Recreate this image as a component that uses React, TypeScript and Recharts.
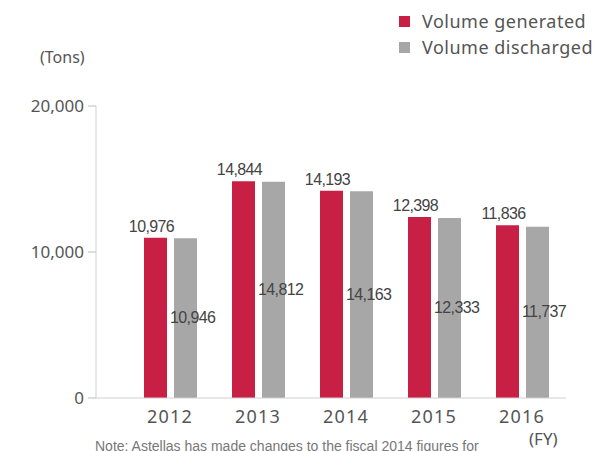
import { Bar, BarChart, XAxis, YAxis } from "recharts";

const years = ["2012", "2013", "2014", "2015", "2016"];
const generated = [10976, 14844, 14193, 12398, 11836];
const discharged = [10946, 14812, 14163, 12333, 11737];
const yTicks = [0, 10000, 20000];

const RED = "#c81f45";
const GRAY = "#a7a7a8";
const TEXT = "#555";

const data = years.map((y, i) => ({
  year: y,
  generated: generated[i],
  discharged: discharged[i],
}));

const fmt = (v: number) => v.toLocaleString("en-US");

const labelFont = {
  fontFamily: "'Liberation Sans', Arial, sans-serif",
  fontSize: 16,
  letterSpacing: -0.6,
  fill: "#444",
};

function TopLabel(props: any) {
  const { x, y, width, value } = props;
  return (
    <text x={x + width / 2 - 4} y={y - 6} textAnchor="middle" {...labelFont}>
      {fmt(value)}
    </text>
  );
}

function InsideLabel(props: any) {
  const { x, y, height, value } = props;
  return (
    <text x={x - 4} y={y + height / 2 + 5} textAnchor="start" {...labelFont}>
      {fmt(value)}
    </text>
  );
}

const legendItems = [
  { name: "Volume generated", color: RED },
  { name: "Volume discharged", color: GRAY },
];

export default function App() {
  const font = "'Noto Sans', sans-serif";
  return (
    <div style={{ position: "absolute", left: 0, top: 0, width: 606, height: 451, overflow: "hidden", background: "#fff" }}>
      <BarChart
        width={606}
        height={451}
        data={data}
        margin={{ top: 106, right: 40, bottom: 23, left: 0 }}
        barSize={23}
        barGap={7}
      >
        <XAxis
          dataKey="year"
          height={30}
          padding={{ left: 30, right: 0 }}
          axisLine={{ stroke: "#d0d0d0" }}
          tickLine={false}
          tickMargin={6}
          tick={{ fill: TEXT, fontSize: 18, fontFamily: font, letterSpacing: 1.2 }}
        />
        <YAxis
          width={96}
          domain={[0, 20000]}
          ticks={yTicks}
          tickFormatter={fmt}
          axisLine={{ stroke: "#d0d0d0" }}
          tickLine={{ stroke: "#bdbdbd" }}
          tickSize={8}
          tickMargin={4}
          tick={{ fill: TEXT, fontSize: 17, fontFamily: font }}
        />
        <Bar dataKey="generated" fill={RED} isAnimationActive={false} label={<TopLabel />} />
        <Bar dataKey="discharged" fill={GRAY} isAnimationActive={false} label={<InsideLabel />} />
      </BarChart>
      <div style={{ position: "absolute", left: 399, top: 8, fontFamily: font, fontSize: 18, letterSpacing: 0.5, color: TEXT }}>
        {legendItems.map((it) => (
          <div key={it.name} style={{ display: "flex", alignItems: "center", height: 26 }}>
            <span
              style={{
                width: 11,
                height: 11,
                background: it.color,
                display: "inline-block",
                marginRight: 12,
              }}
            />
            {it.name}
          </div>
        ))}
      </div>
      <div style={{ position: "absolute", left: 40, top: 46, fontFamily: font, fontSize: 16, color: TEXT }}>
        (Tons)
      </div>
      <div style={{ position: "absolute", left: 529, top: 427, fontFamily: font, fontSize: 17, color: TEXT }}>
        (FY)
      </div>
      <div
        style={{
          position: "absolute",
          left: 95,
          top: 438,
          fontFamily: "'Liberation Sans', Arial, sans-serif",
          fontSize: 14,
          color: "#777",
          whiteSpace: "nowrap",
        }}
      >
        Note: Astellas has made changes to the fiscal 2014 figures for
      </div>
    </div>
  );
}
